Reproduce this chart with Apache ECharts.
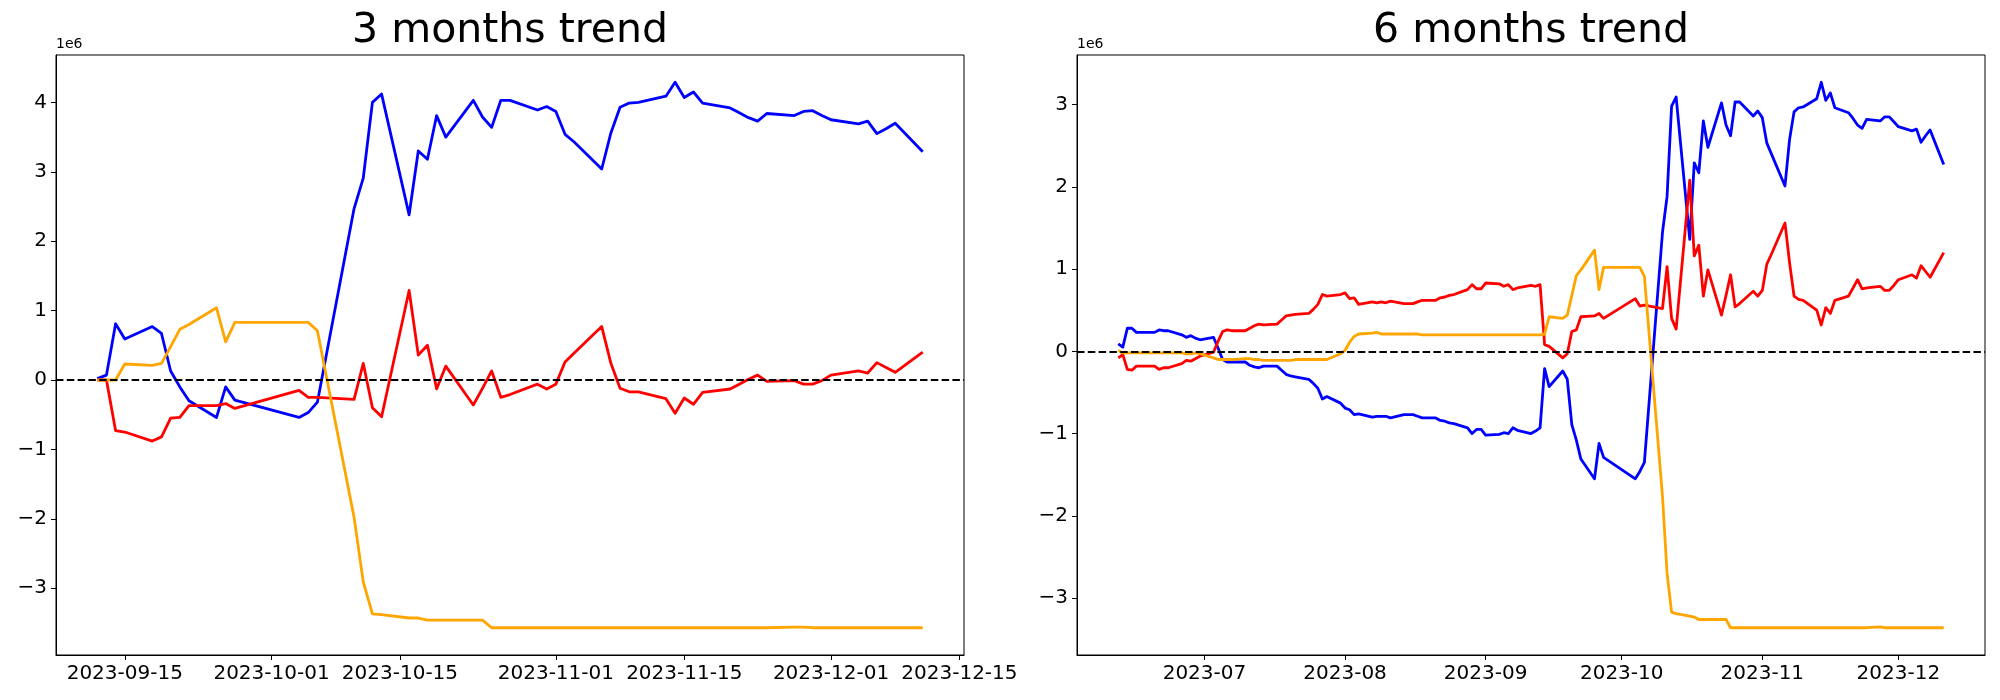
<!DOCTYPE html>
<html><head><meta charset="utf-8">
<script src="https://cdn.jsdelivr.net/npm/echarts@6/dist/echarts.min.js"></script>
<style>html,body{margin:0;padding:0;background:#fff}#c{width:2000px;height:700px}</style>
</head><body><div id="c"></div>
<script>
// ---------- 3 months trend (values in 1e6) ----------
const dates3 = ['2023-09-12','2023-09-13','2023-09-14','2023-09-15','2023-09-18','2023-09-19','2023-09-20','2023-09-21','2023-09-22','2023-09-25','2023-09-26','2023-09-27',
 '2023-10-04','2023-10-05','2023-10-06','2023-10-10','2023-10-11','2023-10-12','2023-10-13','2023-10-16','2023-10-17','2023-10-18','2023-10-19','2023-10-20','2023-10-23','2023-10-24','2023-10-25','2023-10-26','2023-10-27','2023-10-30','2023-10-31',
 '2023-11-01','2023-11-02','2023-11-03','2023-11-06','2023-11-07','2023-11-08','2023-11-09','2023-11-10','2023-11-13','2023-11-14','2023-11-15','2023-11-16','2023-11-17','2023-11-20','2023-11-21','2023-11-22','2023-11-23','2023-11-24','2023-11-27','2023-11-28','2023-11-29','2023-11-30',
 '2023-12-01','2023-12-04','2023-12-05','2023-12-06','2023-12-07','2023-12-08','2023-12-11'];
const blue3 = [0.02,0.07,0.81,0.59,0.77,0.67,0.13,-0.10,-0.30,-0.54,-0.10,-0.29,
 -0.54,-0.47,-0.32,2.47,2.91,4.00,4.12,2.38,3.30,3.18,3.81,3.50,4.03,3.79,3.64,4.03,4.03,3.89,3.94,
 3.87,3.54,3.43,3.04,3.56,3.93,3.99,4.00,4.09,4.29,4.07,4.15,3.99,3.92,3.85,3.78,3.73,3.84,3.81,3.87,3.88,3.81,
 3.75,3.69,3.73,3.55,3.62,3.70,3.29];
const red3 = [0.00,0.00,-0.73,-0.75,-0.88,-0.82,-0.55,-0.54,-0.37,-0.37,-0.34,-0.41,
 -0.15,-0.25,-0.25,-0.28,0.24,-0.40,-0.53,1.29,0.36,0.50,-0.13,0.20,-0.36,-0.12,0.13,-0.25,-0.21,-0.06,-0.13,
 -0.06,0.26,0.39,0.77,0.24,-0.12,-0.17,-0.17,-0.27,-0.48,-0.26,-0.35,-0.18,-0.13,-0.06,0.01,0.07,-0.02,-0.01,-0.06,-0.06,-0.01,
 0.07,0.13,0.10,0.25,0.18,0.11,0.40];
const orange3 = [0.00,0.00,0.00,0.23,0.21,0.24,0.48,0.73,0.80,1.04,0.55,0.83,
 0.83,0.83,0.71,-1.98,-2.91,-3.37,-3.38,-3.43,-3.43,-3.46,-3.46,-3.46,-3.46,-3.46,-3.57,-3.57,-3.57,-3.57,-3.57,
 -3.57,-3.57,-3.57,-3.57,-3.57,-3.57,-3.57,-3.57,-3.57,-3.57,-3.57,-3.57,-3.57,-3.57,-3.57,-3.57,-3.57,-3.57,-3.56,-3.56,-3.57,-3.57,
 -3.57,-3.57,-3.57,-3.57,-3.57,-3.57,-3.57];
const xTicks3 = ['2023-09-15','2023-10-01','2023-10-15','2023-11-01','2023-11-15','2023-12-01','2023-12-15'];
const yTicks3 = [-3,-2,-1,0,1,2,3,4];

// ---------- 6 months trend (values in 1e6) ----------
const dates6 = ['2023-06-12','2023-06-13','2023-06-14','2023-06-15','2023-06-16','2023-06-19','2023-06-20','2023-06-21','2023-06-22','2023-06-23','2023-06-26','2023-06-27','2023-06-28','2023-06-29','2023-06-30',
 '2023-07-03','2023-07-04','2023-07-05','2023-07-06','2023-07-07','2023-07-10','2023-07-11','2023-07-12','2023-07-13','2023-07-14','2023-07-17','2023-07-18','2023-07-19','2023-07-20','2023-07-21','2023-07-24','2023-07-25','2023-07-26','2023-07-27','2023-07-28','2023-07-31',
 '2023-08-01','2023-08-02','2023-08-03','2023-08-04','2023-08-07','2023-08-08','2023-08-09','2023-08-10','2023-08-11','2023-08-14','2023-08-16','2023-08-17','2023-08-18','2023-08-21','2023-08-22','2023-08-23','2023-08-24','2023-08-25','2023-08-28','2023-08-29','2023-08-30','2023-08-31',
 '2023-09-01','2023-09-04','2023-09-05','2023-09-06','2023-09-07','2023-09-08','2023-09-11','2023-09-12','2023-09-13','2023-09-14','2023-09-15','2023-09-18','2023-09-19','2023-09-20','2023-09-21','2023-09-22','2023-09-25','2023-09-26','2023-09-27',
 '2023-10-04','2023-10-05','2023-10-06','2023-10-10','2023-10-11','2023-10-12','2023-10-13','2023-10-16','2023-10-17','2023-10-18','2023-10-19','2023-10-20','2023-10-23','2023-10-24','2023-10-25','2023-10-26','2023-10-27','2023-10-30','2023-10-31',
 '2023-11-01','2023-11-02','2023-11-03','2023-11-06','2023-11-07','2023-11-08','2023-11-09','2023-11-10','2023-11-13','2023-11-14','2023-11-15','2023-11-16','2023-11-17','2023-11-20','2023-11-21','2023-11-22','2023-11-23','2023-11-24','2023-11-27','2023-11-28','2023-11-29','2023-11-30',
 '2023-12-01','2023-12-04','2023-12-05','2023-12-06','2023-12-07','2023-12-08','2023-12-11'];
const blue6 = [0.09,0.05,0.28,0.28,0.23,0.23,0.23,0.26,0.25,0.25,0.20,0.17,0.19,0.16,0.14,
 0.17,0.04,-0.10,-0.13,-0.13,-0.13,-0.17,-0.19,-0.20,-0.18,-0.18,-0.23,-0.28,-0.30,-0.31,-0.34,-0.39,-0.45,-0.58,-0.55,-0.63,
 -0.69,-0.71,-0.77,-0.76,-0.80,-0.79,-0.79,-0.79,-0.81,-0.77,-0.77,-0.79,-0.81,-0.81,-0.84,-0.85,-0.87,-0.88,-0.93,-1.00,-0.95,-0.95,
 -1.02,-1.01,-0.99,-1.00,-0.93,-0.96,-1.00,-0.97,-0.93,-0.21,-0.43,-0.24,-0.34,-0.89,-1.08,-1.31,-1.55,-1.12,-1.29,
 -1.55,-1.46,-1.35,1.45,1.88,2.98,3.09,1.36,2.29,2.17,2.80,2.48,3.02,2.75,2.62,3.03,3.03,2.86,2.92,
 2.84,2.53,2.40,2.01,2.57,2.91,2.96,2.97,3.07,3.27,3.05,3.14,2.96,2.90,2.83,2.75,2.71,2.82,2.80,2.85,2.85,2.79,
 2.73,2.68,2.70,2.54,2.62,2.69,2.27];
const red6 = [-0.08,-0.04,-0.22,-0.23,-0.18,-0.18,-0.18,-0.22,-0.20,-0.20,-0.15,-0.11,-0.12,-0.09,-0.06,
 -0.01,0.12,0.24,0.26,0.25,0.25,0.28,0.31,0.33,0.32,0.33,0.38,0.43,0.44,0.45,0.46,0.51,0.57,0.69,0.67,0.69,
 0.71,0.64,0.65,0.57,0.60,0.59,0.60,0.59,0.61,0.58,0.58,0.60,0.62,0.62,0.65,0.66,0.68,0.69,0.75,0.81,0.76,0.76,
 0.83,0.82,0.79,0.81,0.75,0.77,0.80,0.79,0.81,0.08,0.06,-0.08,-0.03,0.24,0.26,0.42,0.43,0.46,0.40,
 0.64,0.55,0.56,0.52,1.03,0.40,0.27,2.08,1.16,1.29,0.67,0.99,0.44,0.68,0.93,0.54,0.58,0.73,0.67,
 0.74,1.06,1.18,1.56,1.08,0.67,0.63,0.62,0.50,0.32,0.53,0.46,0.62,0.67,0.77,0.87,0.76,0.77,0.79,0.74,0.74,0.80,
 0.87,0.93,0.89,1.04,0.97,0.90,1.20];
const orange6 = [0.01,-0.02,-0.02,-0.02,-0.02,-0.02,-0.02,-0.02,-0.02,-0.02,-0.02,-0.03,-0.03,-0.02,-0.03,
 -0.08,-0.10,-0.10,-0.10,-0.10,-0.09,-0.09,-0.10,-0.10,-0.11,-0.11,-0.11,-0.11,-0.11,-0.10,-0.10,-0.10,-0.10,-0.10,-0.10,-0.03,
 0.01,0.11,0.18,0.21,0.22,0.23,0.21,0.21,0.21,0.21,0.21,0.21,0.20,0.20,0.20,0.20,0.20,0.20,0.20,0.20,0.20,0.20,
 0.20,0.20,0.20,0.20,0.20,0.20,0.20,0.20,0.20,0.21,0.42,0.40,0.44,0.68,0.92,0.99,1.23,0.75,1.02,
 1.02,1.02,0.91,-1.77,-2.70,-3.17,-3.19,-3.22,-3.23,-3.26,-3.26,-3.26,-3.26,-3.26,-3.36,-3.36,-3.36,-3.36,-3.36,
 -3.36,-3.36,-3.36,-3.36,-3.36,-3.36,-3.36,-3.36,-3.36,-3.36,-3.36,-3.36,-3.36,-3.36,-3.36,-3.36,-3.36,-3.36,-3.35,-3.36,-3.36,-3.36,
 -3.36,-3.36,-3.36,-3.36,-3.36,-3.36,-3.36];
const xTicks6 = ['2023-07','2023-08','2023-09','2023-10','2023-11','2023-12'];
const yTicks6 = [-3,-2,-1,0,1,2,3];

const titles = ['3 months trend', '6 months trend'];
const colors = {blue:'#0000ff', red:'#ff0000', orange:'#ffa500'};

// ---------- helpers ----------
function ts(s){ const p = s.split('-').map(Number); return Date.UTC(p[0], p[1]-1, p[2] || 1); }
function pairs(d, v){ return d.map((x,i)=>[ts(x), v[i]]); }
function xRange(d){ const a = ts(d[0]), b = ts(d[d.length-1]); const m = (b-a)*0.05; return [a-m, b+m]; }
function yRange(arrs){ const all = [].concat(...arrs, [0]); const lo = Math.min(...all), hi = Math.max(...all); const m=(hi-lo)*0.05; return [lo-m, hi+m]; }
function minus(v){ return v < 0 ? '\u2212' + Math.abs(v) : String(v); }

const FONT = 'DejaVu Sans';
const G = [{left:56, top:55, width:908, height:600}, {left:1077, top:55, width:908, height:600}];

function xAxis(idx, dates, ticks){
  const r = xRange(dates);
  const vals = ticks.map(ts);
  return {type:'value', gridIndex:idx, min:r[0], max:r[1], splitLine:{show:false},
    axisLine:{show:true, onZero:false, lineStyle:{color:'#000', width:1}},
    axisTick:{show:true, length:5, lineStyle:{color:'#000', width:1}, customValues:vals},
    axisLabel:{show:true, customValues:vals, margin:9, color:'#000', fontFamily:FONT, fontSize:20,
      formatter:(v)=>{ const i = vals.indexOf(v); return i>=0 ? ticks[i] : ''; }}};
}
function yAxis(idx, arrs, ticks){
  const r = yRange(arrs);
  return {type:'value', gridIndex:idx, min:r[0], max:r[1], splitLine:{show:false},
    axisLine:{show:true, onZero:false, lineStyle:{color:'#000', width:1}},
    axisTick:{show:true, length:5, lineStyle:{color:'#000', width:1}, customValues:ticks},
    axisLabel:{show:true, customValues:ticks, margin:9, color:'#000', fontFamily:FONT, fontSize:20, formatter:minus}};
}
function line(idx, data, color){
  return {type:'line', xAxisIndex:idx, yAxisIndex:idx, data:data, showSymbol:false, symbol:'none',
    lineStyle:{color:color, width:2.8, join:'round'}, itemStyle:{color:color}, animation:false, z:2};
}
function zero(idx){
  return {type:'line', xAxisIndex:idx, yAxisIndex:idx, data:[], z:5, animation:false,
    markLine:{silent:true, symbol:'none', label:{show:false}, animation:false,
      lineStyle:{color:'#000', type:[7.5,3.3], width:2.1}, data:[{yAxis:0}]}};
}

const chart = echarts.init(document.getElementById('c'), null, {renderer:'canvas'});
chart.setOption({
  backgroundColor:'#fff',
  animation:false,
  grid: G.map(g=>Object.assign({show:true, borderColor:'#000', borderWidth:1, backgroundColor:'transparent', containLabel:false}, g)),
  xAxis:[xAxis(0, dates3, xTicks3), xAxis(1, dates6, xTicks6)],
  yAxis:[yAxis(0, [blue3, red3, orange3], yTicks3), yAxis(1, [blue6, red6, orange6], yTicks6)],
  series:[
    line(0, pairs(dates3, blue3), colors.blue),
    line(0, pairs(dates3, red3), colors.red),
    line(0, pairs(dates3, orange3), colors.orange),
    zero(0),
    line(1, pairs(dates6, blue6), colors.blue),
    line(1, pairs(dates6, red6), colors.red),
    line(1, pairs(dates6, orange6), colors.orange),
    zero(1)
  ],
  graphic: [
    {type:'text', x:G[0].left + G[0].width/2, y:31, style:{text:titles[0], font:'41px "DejaVu Sans"', fill:'#000', textAlign:'center', textVerticalAlign:'middle'}},
    {type:'text', x:G[1].left + G[1].width/2, y:31, style:{text:titles[1], font:'41px "DejaVu Sans"', fill:'#000', textAlign:'center', textVerticalAlign:'middle'}},
    {type:'text', x:G[0].left, y:44, style:{text:'1e6', font:'14px "DejaVu Sans"', fill:'#000', textAlign:'left', textVerticalAlign:'middle'}},
    {type:'text', x:G[1].left, y:44, style:{text:'1e6', font:'14px "DejaVu Sans"', fill:'#000', textAlign:'left', textVerticalAlign:'middle'}}
  ]
});
</script>
</body></html>
